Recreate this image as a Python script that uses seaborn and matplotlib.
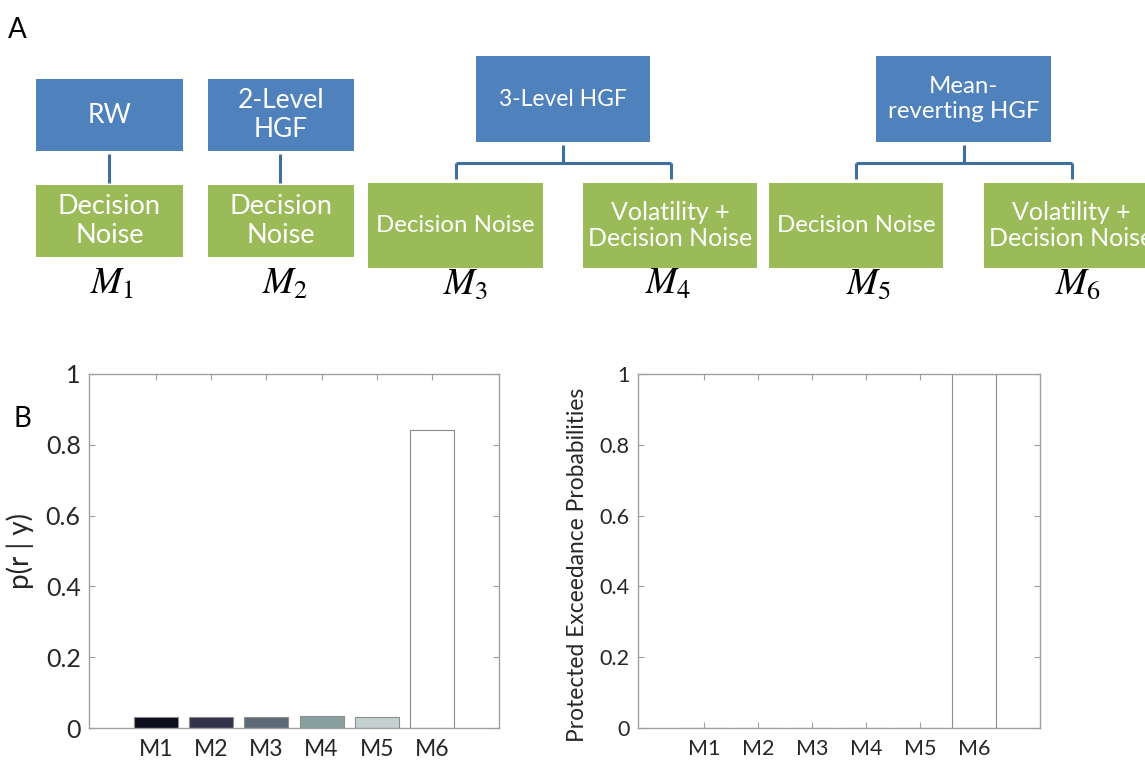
import matplotlib
matplotlib.use("Agg")
import matplotlib.pyplot as plt
from matplotlib.patches import Rectangle
import seaborn as sns
import pandas as pd

# ---------------- data ----------------
models = ["M1", "M2", "M3", "M4", "M5", "M6"]
posterior_r = [0.031, 0.031, 0.031, 0.034, 0.031, 0.841]
protected_xp = [0.0, 0.0, 0.0, 0.0, 0.0, 1.0]
bar_colors = ["#0b0b1f", "#2f2e50", "#5a6a7b", "#84a5a3", "#c3d3d2", "#ffffff"]
yticks = [0, 0.2, 0.4, 0.6, 0.8, 1]
ytick_labels = ["0", "0.2", "0.4", "0.6", "0.8", "1"]

perceptual_models = ["RW", "2-Level\nHGF", "3-Level HGF", "Mean-\nreverting HGF"]
response_models = ["Decision\nNoise", "Decision\nNoise", "Decision Noise",
                   "Volatility +\nDecision Noise", "Decision Noise",
                   "Volatility +\nDecision Noise"]
model_labels = [r"$M_1$", r"$M_2$", r"$M_3$", r"$M_4$", r"$M_5$", r"$M_6$"]

# ---------------- style ----------------
sns.set_theme(style="white")
plt.rcParams["font.family"] = ["Lato", "DejaVu Sans"]
plt.rcParams["mathtext.fontset"] = "stix"

W, H = 1145, 765
fig = plt.figure(figsize=(W / 100, H / 100), dpi=100)

BLUE = "#4f81bd"
GREEN = "#9bbb59"
LINE = "#3f6f9f"
TXT = "#262626"
SPINE = "#a0a0a0"

# ---------------- panel A (diagram) ----------------
axd = fig.add_axes([0, 0, 1, 1])
axd.set_xlim(0, W)
axd.set_ylim(H, 0)
axd.axis("off")
axd.set_zorder(-1)

def box(x0, x1, y0, y1, color, text, fs):
    axd.add_patch(Rectangle((x0, y0), x1 - x0, y1 - y0, facecolor=color,
                            edgecolor="none", clip_on=False))
    axd.text((x0 + x1) / 2, (y0 + y1) / 2, text, ha="center", va="center",
             color="white", fontsize=fs, linespacing=1.2)

def line(xs, ys):
    axd.plot(xs, ys, color=LINE, lw=2.2, solid_capstyle="butt")

# top boxes
top_boxes = [(36, 183, 79, 151), (208, 354, 79, 151),
             (476, 650, 56, 142), (876, 1051, 56, 142)]
top_fs = [19, 19, 16.5, 17.3]
for (x0, x1, y0, y1), t, fs in zip(top_boxes, perceptual_models, top_fs):
    box(x0, x1, y0, y1, BLUE, t, fs)

# bottom boxes
bot_boxes = [(36, 183, 185, 257), (208, 354, 185, 257),
             (368, 543, 183, 268), (583, 757, 183, 268),
             (769, 943, 183, 268), (984, 1159, 183, 268)]
bot_fs = [19.5, 19.5, 17.3, 18, 17.3, 18]
for (x0, x1, y0, y1), t, fs in zip(bot_boxes, response_models, bot_fs):
    box(x0, x1, y0, y1, GREEN, t, fs)

# connectors
line([109, 109], [154, 183])
line([280, 280], [154, 183])
line([563, 563], [145, 163]); line([456, 671], [163, 163])
line([456, 456], [163, 179]); line([671, 671], [163, 179])
line([964, 964], [145, 163]); line([856, 1072], [163, 163])
line([856, 856], [163, 179]); line([1072, 1072], [163, 179])

label_x = [112, 285, 466, 668, 869, 1078]
for x, lab in zip(label_x, model_labels):
    axd.text(x, 294, lab, ha="center", va="baseline", fontsize=27, color="black")

axd.text(8, 30, "A", fontsize=20, color="black", ha="left", va="center")
axd.text(13, 419, "B", fontsize=20, color="black", ha="left", va="center")

# ---------------- panel B (bars) ----------------
def style_axes(ax, tick_fs, xtick_fs):
    ax.set_ylim(0, 1)
    ax.set_xlim(-1.22, 6.22)
    ax.set_yticks(yticks)
    ax.set_yticklabels(ytick_labels)
    for s in ax.spines.values():
        s.set_visible(True)
        s.set_color(SPINE)
        s.set_linewidth(1.0)
    ax.tick_params(axis="both", direction="in", length=4, width=0.8,
                   color=SPINE, top=True, right=True, bottom=True, left=True,
                   labelcolor=TXT)
    ax.tick_params(axis="y", labelsize=tick_fs, pad=6)
    ax.tick_params(axis="x", labelsize=xtick_fs, pad=8)
    ax.set_xlabel("")

df1 = pd.DataFrame({"model": models, "value": posterior_r})
ax1 = fig.add_axes([89 / W, 1 - 728 / H, 410 / W, 354 / H])
sns.barplot(data=df1, x="model", y="value", hue="model", palette=bar_colors,
            legend=False, width=0.8, edgecolor="#8c8c8c", linewidth=0.8, ax=ax1)
style_axes(ax1, 18, 16.5)
ax1.set_ylabel("p(r | y)", fontsize=20, color=TXT)
ax1.yaxis.set_label_coords(-0.135, 0.5)

df2 = pd.DataFrame({"model": models, "value": protected_xp})
ax2 = fig.add_axes([638 / W, 1 - 728 / H, 402 / W, 354 / H])
sns.barplot(data=df2, x="model", y="value", hue="model", palette=bar_colors,
            legend=False, width=0.8, edgecolor="#8c8c8c", linewidth=0.8, ax=ax2)
style_axes(ax2, 15.5, 15.5)
ax2.set_ylabel("Protected Exceedance Probabilities", fontsize=16.4, color=TXT)
ax2.yaxis.set_label_coords(-0.124, 0.46)

fig.savefig("out.png", dpi=100)
